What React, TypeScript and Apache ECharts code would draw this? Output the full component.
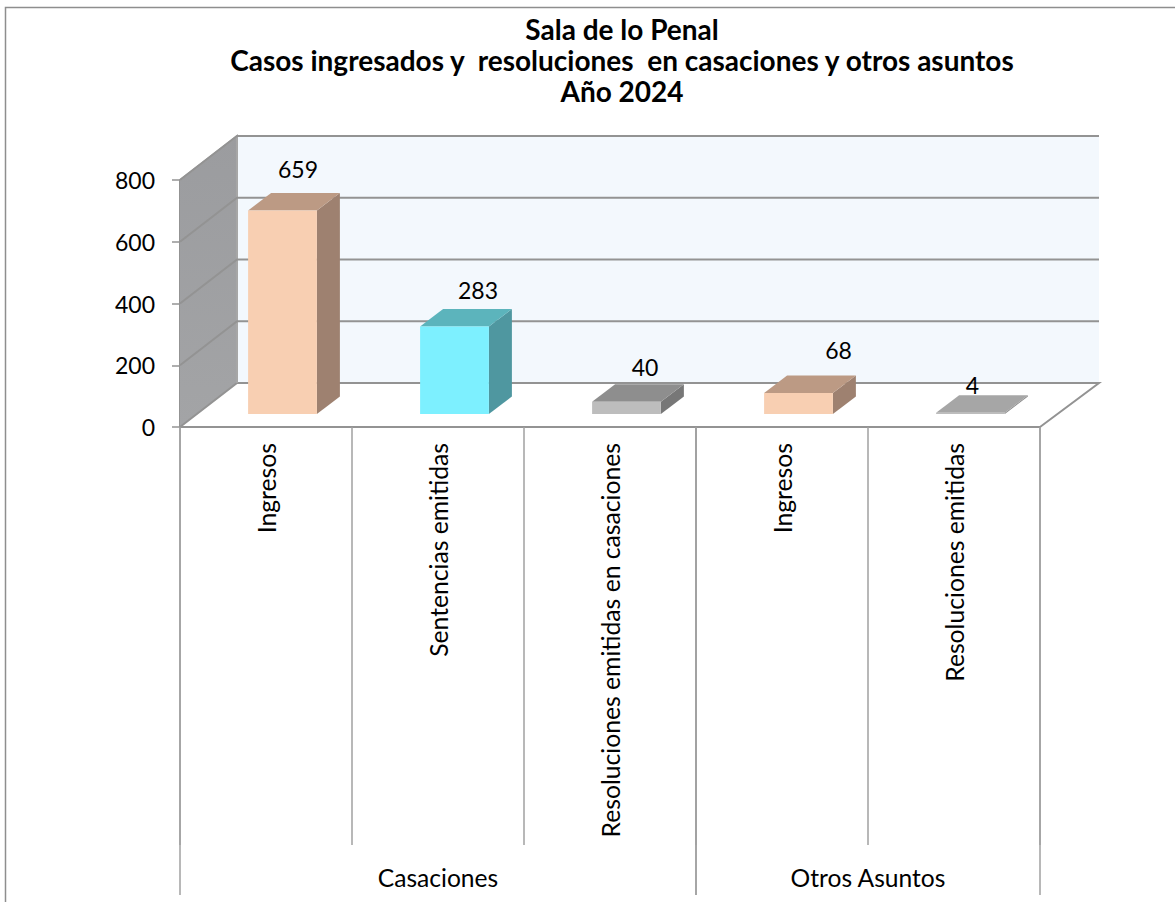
import React, { useEffect, useRef } from "react";
import * as echarts from "echarts";

const titleLines = [
  "Sala de lo Penal",
  "Casos ingresados y  resoluciones  en casaciones y otros asuntos",
  "Año 2024",
];
const categories = [
  "Ingresos",
  "Sentencias emitidas",
  "Resoluciones emitidas en casaciones",
  "Ingresos",
  "Resoluciones emitidas",
];
const values = [659, 283, 40, 68, 4];
const groupNames = ["Casaciones", "Otros Asuntos"];
const groupStarts = [0, 3];
const groupEnds = [3, 5];
const yTicks = [200, 400, 600, 800];

const FONT = "Lato, 'Open Sans', sans-serif";
const palette = [
  { front: "#f8cfb2", top: "#bc9a84", side: "#9e8170" },
  { front: "#7df0ff", top: "#5cb4bc", side: "#4f97a0" },
  { front: "#bdbdbd", top: "#8e8e8e", side: "#777777" },
  { front: "#f8cfb2", top: "#bc9a84", side: "#9e8170" },
  { front: "#bdbdbd", top: "#a6a6a6", side: "#8a8a8a" },
];
// manual label nudges as in the source chart (px from the bar's top-front centre)
const labelDx = [15.5, 23.5, 18.5, 40, 2];
const labelDy = [-42, -37, -35, -43, -28];

const DEPTH_L = 57;
const DEPTH_R = 59;
const DEPTH_Y = -44;
const BAR_DX = 23;
const BAR_DY = -17.5;
const BAR_SHIFT_X = 16.5;
const BAR_SHIFT_Y = -13;
const LINE = "#939393";

function renderWalls(_: any, api: any) {
  const [x0, y0] = api.coord([0, 0]);
  const [x1, y1] = api.coord([5, 800]);
  const bl = x0 + DEPTH_L;
  const br = x1 + DEPTH_R;
  const by0 = y0 + DEPTH_Y;
  const by1 = y1 + DEPTH_Y;
  const children: any[] = [
    {
      type: "polygon",
      shape: { points: [[bl, by1], [br, by1], [br, by0], [bl, by0]] },
      style: { fill: "#f3f8fd" },
    },
    {
      type: "polygon",
      shape: { points: [[x0, y1], [bl, by1], [bl, by0], [x0, y0]] },
      style: {
        fill: new echarts.graphic.LinearGradient(0, 0, 0, 1, [
          { offset: 0, color: "#9b9c9f" },
          { offset: 1, color: "#a3a4a6" },
        ]),
      },
    },
    {
      type: "polyline",
      shape: { points: [[x0, y0], [bl, by0], [br, by0], [x1, y0]] },
      style: { fill: "none", stroke: LINE, lineWidth: 2 },
    },
    {
      type: "polyline",
      shape: { points: [[x0, y1], [bl, by1], [bl, by0]] },
      style: { fill: "none", stroke: "#a6a6a6", lineWidth: 2 },
    },
  ];
  yTicks.forEach((t) => {
    const y = api.coord([0, t])[1];
    children.push({
      type: "polyline",
      shape: { points: [[x0, y], [bl, y + DEPTH_Y], [br, y + DEPTH_Y]] },
      style: { fill: "none", stroke: LINE, lineWidth: 2 },
    });
  });
  return { type: "group", children };
}

function renderBar(_: any, api: any) {
  const i = api.value(2);
  const p = palette[i];
  const a = api.coord([api.value(0) - 0.2, 0]);
  const b = api.coord([api.value(0) + 0.2, api.value(1)]);
  const l = a[0] + BAR_SHIFT_X;
  const r = b[0] + BAR_SHIFT_X;
  const bot = a[1] + BAR_SHIFT_Y;
  const top = b[1] + BAR_SHIFT_Y;
  const poly = (points: number[][], fill: string) => ({
    type: "polygon",
    shape: { points },
    style: { fill },
  });
  return {
    type: "group",
    children: [
      poly([[r, top], [r + BAR_DX, top + BAR_DY], [r + BAR_DX, bot + BAR_DY], [r, bot]], p.side),
      poly([[l, top], [r, top], [r + BAR_DX, top + BAR_DY], [l + BAR_DX, top + BAR_DY]], p.top),
      poly([[l, top], [r, top], [r, bot], [l, bot]], p.front),
      {
        type: "text",
        z2: 10,
        style: {
          text: String(api.value(1)),
          x: (l + r) / 2 + labelDx[i],
          y: top + labelDy[i],
          fill: "#000",
          font: `23px ${FONT}`,
          align: "center",
          verticalAlign: "middle",
        },
      },
    ],
  };
}

function renderGroup(_: any, api: any) {
  const i = api.value(0);
  const a = api.coord([groupStarts[i], 0]);
  const b = api.coord([groupEnds[i], 0]);
  const line = (x: number) => ({
    type: "line",
    shape: { x1: x, y1: a[1], x2: x, y2: a[1] + 468 },
    style: { stroke: "#a0a0a0", lineWidth: 1.5 },
  });
  return {
    type: "group",
    children: [
      line(a[0]),
      line(b[0]),
      {
        type: "text",
        style: {
          text: groupNames[i],
          x: (a[0] + b[0]) / 2,
          y: a[1] + 450,
          fill: "#000",
          font: `24.6px ${FONT}`,
          align: "center",
          verticalAlign: "middle",
        },
      },
    ],
  };
}

export default function App() {
  const ref = useRef<HTMLDivElement>(null);
  useEffect(() => {
    document.body.style.margin = "0";
    const chart = echarts.init(ref.current!, null, { renderer: "svg" });
    chart.setOption({
      animation: false,
      backgroundColor: "#fff",
      title: {
        text: titleLines.join("\n"),
        left: 617,
        top: 8,
        textAlign: "center",
        textStyle: {
          fontFamily: FONT,
          fontWeight: "bold",
          fontSize: 28,
          lineHeight: 31,
          color: "#000",
        },
      },
      grid: { left: 180, top: 180, width: 860, height: 247, containLabel: false },
      xAxis: [
        {
          type: "category",
          data: categories,
          position: "bottom",
          z: 5,
          axisLine: { show: true, lineStyle: { color: LINE, width: 2 } },
          axisTick: {
            show: true,
            length: 418,
            alignWithLabel: false,
            lineStyle: { color: "#a0a0a0", width: 1.5 },
          },
          axisLabel: {
            rotate: 90,
            interval: 0,
            margin: 16,
            fontFamily: FONT,
            fontSize: 24.7,
            color: "#000",
          },
          splitLine: { show: false },
        },
        { type: "value", min: 0, max: 5, show: false, splitLine: { show: false } },
      ],
      yAxis: {
        type: "value",
        min: 0,
        max: 800,
        interval: 200,
        axisLine: { show: true, lineStyle: { color: LINE, width: 2 } },
        axisTick: { show: true, length: 8, lineStyle: { color: LINE, width: 1.5 } },
        axisLabel: { margin: 25, fontFamily: FONT, fontSize: 23, color: "#000" },
        splitLine: { show: false },
      },
      series: [
        {
          type: "custom",
          xAxisIndex: 1,
          yAxisIndex: 0,
          z: 1,
          silent: true,
          clip: false,
          renderItem: renderWalls,
          data: [[0, 0]],
          encode: { x: 0, y: 1 },
        },
        {
          type: "custom",
          xAxisIndex: 1,
          yAxisIndex: 0,
          z: 3,
          silent: true,
          clip: false,
          renderItem: renderBar,
          data: values.map((v, i) => [i + 0.5, v, i]),
          encode: { x: 0, y: 1 },
        },
        {
          type: "custom",
          xAxisIndex: 1,
          yAxisIndex: 0,
          z: 4,
          silent: true,
          clip: false,
          renderItem: renderGroup,
          data: groupNames.map((_, i) => [i, 0]),
          encode: { x: 0, y: 1 },
        },
      ],
      graphic: [
        {
          type: "polyline",
          silent: true,
          shape: { points: [[5.5, 902], [5.5, 7.5], [1175, 7.5]] },
          style: { fill: "none", stroke: "#8e8e8e", lineWidth: 1.5 },
        },
      ],
    });
    return () => chart.dispose();
  }, []);
  return <div ref={ref} style={{ width: 1175, height: 902 }} />;
}
